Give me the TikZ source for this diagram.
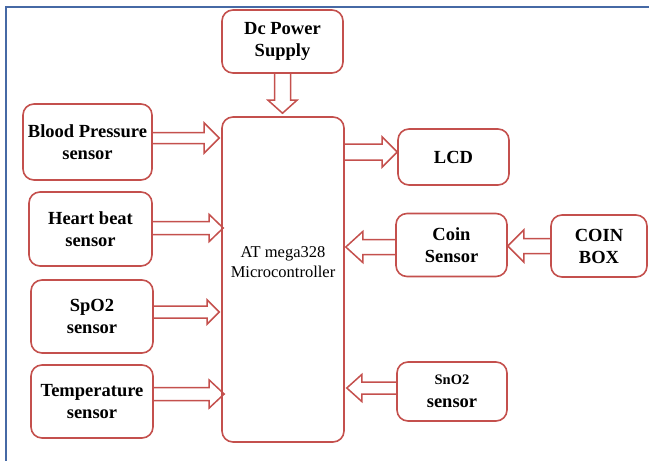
\documentclass[tikz,border=0pt]{standalone}
\usepackage{fontspec}
\setmainfont{Liberation Serif}
\usetikzlibrary{calc}
\definecolor{boxred}{RGB}{196,80,77}
\definecolor{frameblue}{RGB}{70,105,165}
\newcommand\harrow[5]{\draw[arr] let \p1=#1, \p2=#2, \n1={sign(\x2-\x1)*#5} in
  (\x1,\y1+#3) -- (\x2-\n1*1pt,\y1+#3) -- (\x2-\n1*1pt,\y1+#4) -- (\x2,\y1) -- (\x2-\n1*1pt,\y1-#4) -- (\x2-\n1*1pt,\y1-#3) -- (\x1,\y1-#3);}
\newcommand\varrow[5]{\draw[arr] let \p1=#1, \p2=#2, \n1={sign(\y2-\y1)*#5} in
  (\x1+#3,\y1) -- (\x1+#3,\y2-\n1*1pt) -- (\x1+#4,\y2-\n1*1pt) -- (\x1,\y2) -- (\x1-#4,\y2-\n1*1pt) -- (\x1-#3,\y2-\n1*1pt) -- (\x1-#3,\y1);}
\begin{document}
\begin{tikzpicture}[x=1pt,y=-1pt,
  bbox/.style={draw=boxred, line width=1.6pt, rounded corners=11pt, fill=white,
    align=center, inner sep=0pt, font=\bfseries\fontsize{18.5}{22}\selectfont},
  arr/.style={draw=boxred, line width=1.5pt, line join=miter},
  frame/.style={draw=frameblue, line width=2pt}]
\useasboundingbox (0,0) rectangle (649,461);
\draw[frame] (5.5,461) -- (5.5,6.5) -- (649,6.5);
% boxes
\node[bbox, minimum width=121pt, minimum height=63pt] (dc) at (282.5,41.5) {Dc Power\\Supply};
\node[bbox, minimum width=122pt, minimum height=325pt,
  label={[align=center, inner sep=0pt, font=\fontsize{16.5}{20.5}\selectfont, yshift=17.5pt]center:AT mega328\\Microcontroller}] (micro) at (283,279.5) {};
\node[bbox, minimum width=129pt, minimum height=76pt] (bp) at (87.5,142) {Blood Pressure\\sensor};
\node[bbox, minimum width=123pt, minimum height=74pt] (hb) at (90.5,229) {Heart beat\\sensor};
\node[bbox, minimum width=122pt, minimum height=73pt] (spo) at (92,316.5) {SpO2\\sensor};
\node[bbox, minimum width=122pt, minimum height=73pt] (temp) at (92,401.5) {Temperature\\sensor};
\node[bbox, minimum width=111pt, minimum height=56pt] (lcd) at (453.5,157) {LCD};
\node[bbox, minimum width=111pt, minimum height=63pt] (coin) at (451.5,245) {Coin\\Sensor};
\node[bbox, minimum width=96pt, minimum height=62pt] (cbox) at (599,246) {COIN\\BOX};
\node[bbox, minimum width=110pt, minimum height=59pt] (sno) at (452,391.5) {{\fontsize{14.5}{22}\selectfont SnO2}\\[1pt]sensor};
% levels
\coordinate (yBP) at (0,138);
\coordinate (yHB) at (0,228);
\coordinate (ySP) at (0,312);
\coordinate (yTE) at (0,394);
\coordinate (yLC) at (0,152);
\coordinate (yCO) at (0,247);
\coordinate (yCB) at (0,246);
\coordinate (ySN) at (0,388);
% arrows
\varrow{(dc.south)}{($(micro.north)+(0,-3)$)}{8pt}{14.5pt}{13pt}
\harrow{(bp.east |- yBP)}{($(micro.west |- yBP)+(-2,0)$)}{5.5pt}{15pt}{15pt}
\harrow{(hb.east |- yHB)}{($(micro.west |- yHB)+(2,0)$)}{6.5pt}{13.5pt}{14pt}
\harrow{(spo.east |- ySP)}{($(micro.west |- ySP)+(-2,0)$)}{6pt}{12pt}{12pt}
\harrow{(temp.east |- yTE)}{($(micro.west |- yTE)+(3,0)$)}{6.5pt}{14pt}{15pt}
\harrow{(micro.east |- yLC)}{(lcd.west |- yLC)}{8pt}{15pt}{15pt}
\harrow{(coin.west |- yCO)}{($(micro.east |- yCO)+(1,0)$)}{7.5pt}{15.5pt}{17pt}
\harrow{(cbox.west |- yCB)}{(coin.east |- yCB)}{7.5pt}{16pt}{16pt}
\harrow{(sno.west |- ySN)}{($(micro.east |- ySN)+(2,0)$)}{6pt}{13.5pt}{15pt}
\end{tikzpicture}
\end{document}
